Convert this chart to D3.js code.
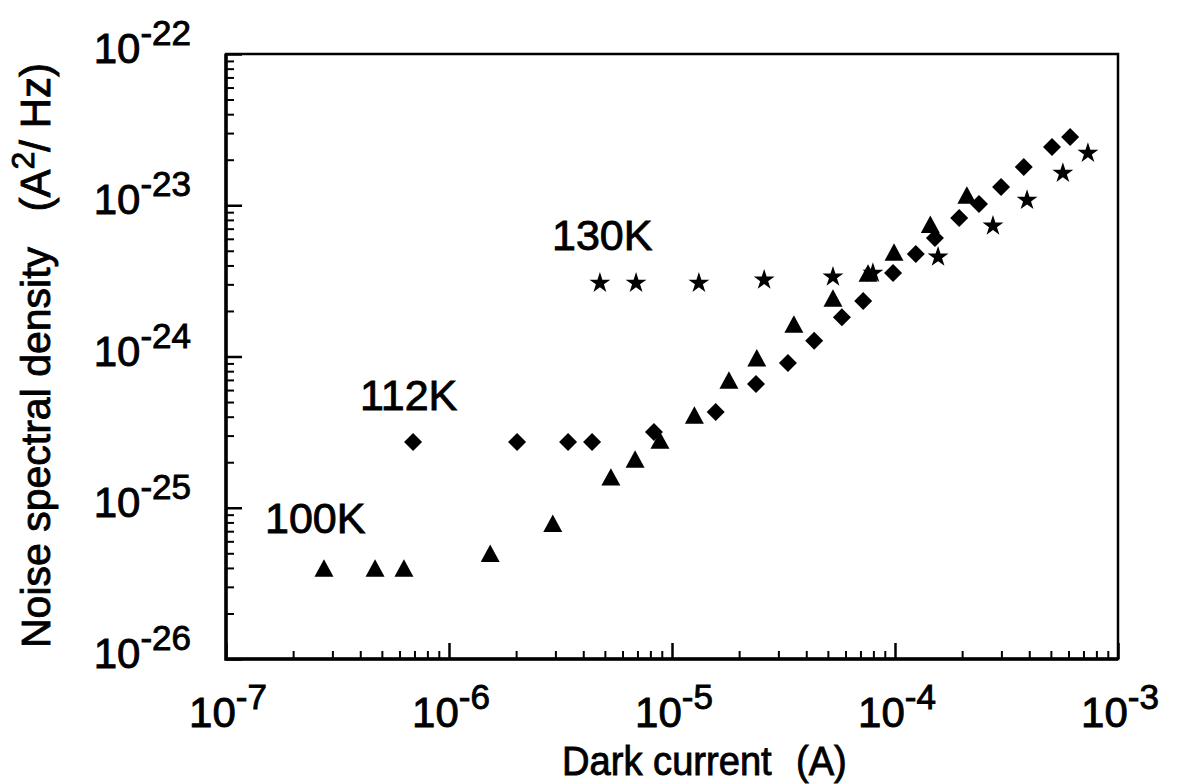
<!DOCTYPE html>
<meta charset="utf-8">
<script src="https://d3js.org/d3.v7.min.js"></script>
<style>
  body { margin: 0; background: #fff; }
  text { font-family: "Liberation Sans", Arial, sans-serif; fill: #000; stroke: #000; stroke-width: 0.9px; }
</style>
<svg id="chart" width="1178" height="784"></svg>
<script>

// 100K (triangles)
const t100X = [2.75e-7, 4.66e-7, 6.28e-7, 1.53e-6, 2.92e-6, 5.32e-6, 6.83e-6, 8.83e-6, 1.26e-5, 1.80e-5, 2.40e-5, 3.52e-5, 5.27e-5, 7.57e-5, 9.9e-5, 1.44e-4, 2.10e-4];
const t100Y = [4.0e-26, 4.0e-26, 4.0e-26, 5.0e-26, 7.9e-26, 1.6e-25, 2.1e-25, 2.8e-25, 4.1e-25, 7.0e-25, 9.8e-25, 1.64e-24, 2.44e-24, 3.56e-24, 4.9e-24, 7.5e-24, 1.17e-23];

// 112K (diamonds)
const t112X = [6.9e-7, 2.02e-6, 3.42e-6, 4.38e-6, 8.3e-6, 1.57e-5, 2.38e-5, 3.31e-5, 4.34e-5, 5.78e-5, 7.2e-5, 9.8e-5, 1.24e-4, 1.51e-4, 1.94e-4, 2.38e-4, 2.99e-4, 3.78e-4, 5.06e-4, 6.1e-4];
const t112Y = [2.72e-25, 2.72e-25, 2.72e-25, 2.72e-25, 3.17e-25, 4.3e-25, 6.58e-25, 9.06e-25, 1.27e-24, 1.82e-24, 2.33e-24, 3.56e-24, 4.76e-24, 6.07e-24, 8.24e-24, 1.02e-23, 1.32e-23, 1.79e-23, 2.43e-23, 2.83e-23];

// 130K (stars)
const t130X = [4.75e-6, 6.9e-6, 1.32e-5, 2.59e-5, 5.27e-5, 7.96e-5, 1.56e-4, 2.75e-4, 3.91e-4, 5.66e-4, 7.33e-4];
const t130Y = [3.06e-24, 3.06e-24, 3.06e-24, 3.21e-24, 3.36e-24, 3.56e-24, 4.55e-24, 7.3e-24, 1.08e-23, 1.63e-23, 2.21e-23];

// axis ticks
const xMajor = [1e-7, 1e-6, 1e-5, 1e-4, 1e-3];
const xMajorExp = ["-7", "-6", "-5", "-4", "-3"];
const yMajor = [1e-26, 1e-25, 1e-24, 1e-23, 1e-22];
const yMajorExp = ["-26", "-25", "-24", "-23", "-22"];

// temperature labels
const tempLabels = ["100K", "112K", "130K"];

const svg = d3.select("#chart");
const pLeft = 226, pRight = 1118, pTop = 54, pBottom = 659;

const x = d3.scaleLog().domain([1e-7, 1e-3]).range([pLeft, pRight]);
const y = d3.scaleLog().domain([1e-26, 1e-22]).range([pBottom, pTop]);

const isMajor = v => Math.abs(Math.log10(v) - Math.round(Math.log10(v))) < 1e-9;
const xMinor = x.ticks().filter(v => !isMajor(v));
const yMinor = y.ticks().filter(v => !isMajor(v));

// minor ticks (inward)
svg.append("g")
  .attr("transform", `translate(0,${pBottom})`)
  .call(d3.axisBottom(x).tickValues(xMinor).tickSize(-8).tickSizeOuter(0).tickFormat(""))
  .call(g => g.select(".domain").remove())
  .selectAll("line").attr("stroke", "#000").attr("stroke-width", 2);

svg.append("g")
  .attr("transform", `translate(${pLeft},0)`)
  .call(d3.axisLeft(y).tickValues(yMinor).tickSize(-8).tickSizeOuter(0).tickFormat(""))
  .call(g => g.select(".domain").remove())
  .selectAll("line").attr("stroke", "#000").attr("stroke-width", 2);

// major ticks
svg.append("g")
  .attr("transform", `translate(0,${pBottom})`)
  .call(d3.axisBottom(x).tickValues(xMajor).tickSize(-16).tickSizeOuter(0).tickFormat(""))
  .call(g => g.select(".domain").remove())
  .selectAll("line").attr("stroke", "#000").attr("stroke-width", 2.5);

svg.append("g")
  .attr("transform", `translate(${pLeft},0)`)
  .call(d3.axisLeft(y).tickValues(yMajor).tickSize(-16).tickSizeOuter(0).tickFormat(""))
  .call(g => g.select(".domain").remove())
  .selectAll("line").attr("stroke", "#000").attr("stroke-width", 2.5);

// frame: heavy axes, lighter top/right
svg.append("rect")
  .attr("x", pLeft).attr("y", pTop)
  .attr("width", pRight - pLeft).attr("height", pBottom - pTop)
  .attr("fill", "none").attr("stroke", "#000").attr("stroke-width", 2.5);
svg.append("path")
  .attr("d", `M${pLeft},${pTop}V${pBottom}H${pRight}`)
  .attr("fill", "none").attr("stroke", "#000").attr("stroke-width", 3.5);

// tick labels
const xl = svg.append("g").selectAll("text")
  .data(xMajor)
  .join("text")
  .attr("x", d => x(d) + 2)
  .attr("y", 727)
  .attr("text-anchor", "middle")
  .attr("font-size", 42);
xl.append("tspan").text("10");
xl.append("tspan").attr("dy", -18).attr("font-size", 35).text((d, i) => xMajorExp[i]);

const yl = svg.append("g").selectAll("text")
  .data(yMajor)
  .join("text")
  .attr("x", 191)
  .attr("y", d => y(d) + 9)
  .attr("text-anchor", "end")
  .attr("font-size", 42);
yl.append("tspan").text("10");
yl.append("tspan").attr("dy", -18).attr("font-size", 35).text((d, i) => yMajorExp[i]);

// axis titles
svg.append("text").attr("transform", "translate(562,775) scale(0.93,1)").attr("font-size", 41).text("Dark current");
svg.append("text").attr("transform", "translate(796,775) scale(0.93,1)").attr("font-size", 41).text("(A)");

svg.append("text")
  .attr("transform", "translate(50,648) rotate(-90)")
  .attr("font-size", 41)
  .text("Noise spectral density");
const yt = svg.append("text")
  .attr("transform", "translate(50,63) rotate(-90)")
  .attr("text-anchor", "end")
  .attr("font-size", 42);
yt.append("tspan").text("(A");
yt.append("tspan").attr("dy", -16).attr("font-size", 32).text("2");
yt.append("tspan").attr("dy", 16).text("/ Hz)");

// markers
const triangle = {
  draw(ctx, size) {
    const w = Math.sqrt(size), h = w * 0.92;
    ctx.moveTo(0, -h / 2); ctx.lineTo(w / 2, h / 2); ctx.lineTo(-w / 2, h / 2); ctx.closePath();
  }
};
const diamond = {
  draw(ctx, size) {
    const r = Math.sqrt(size) / 2;
    ctx.moveTo(0, -r); ctx.lineTo(r, 0); ctx.lineTo(0, r); ctx.lineTo(-r, 0); ctx.closePath();
  }
};

const plot = svg.append("g");
plot.selectAll(".d112")
  .data(t112X.map((v, i) => [v, t112Y[i]]))
  .join("path")
  .attr("class", "d112")
  .attr("transform", d => `translate(${x(d[0])},${y(d[1])})`)
  .attr("d", d3.symbol(diamond, 18 * 18));

plot.selectAll(".d100")
  .data(t100X.map((v, i) => [v, t100Y[i]]))
  .join("path")
  .attr("class", "d100")
  .attr("transform", d => `translate(${x(d[0])},${y(d[1])})`)
  .attr("d", d3.symbol(triangle, 19 * 19));

plot.selectAll(".d130")
  .data(t130X.map((v, i) => [v, t130Y[i]]))
  .join("path")
  .attr("class", "d130")
  .attr("transform", d => `translate(${x(d[0])},${y(d[1])})`)
  .attr("d", d3.symbol(d3.symbolStar, 135));

plot.selectAll("path").attr("fill", "#000");

// temperature labels
svg.append("text").attr("x", 265).attr("y", 533).attr("font-size", 43).text(tempLabels[0]);
svg.append("text").attr("x", 360).attr("y", 410).attr("font-size", 43).text(tempLabels[1]);
svg.append("text").attr("x", 552).attr("y", 250).attr("font-size", 43).text(tempLabels[2]);

</script>
